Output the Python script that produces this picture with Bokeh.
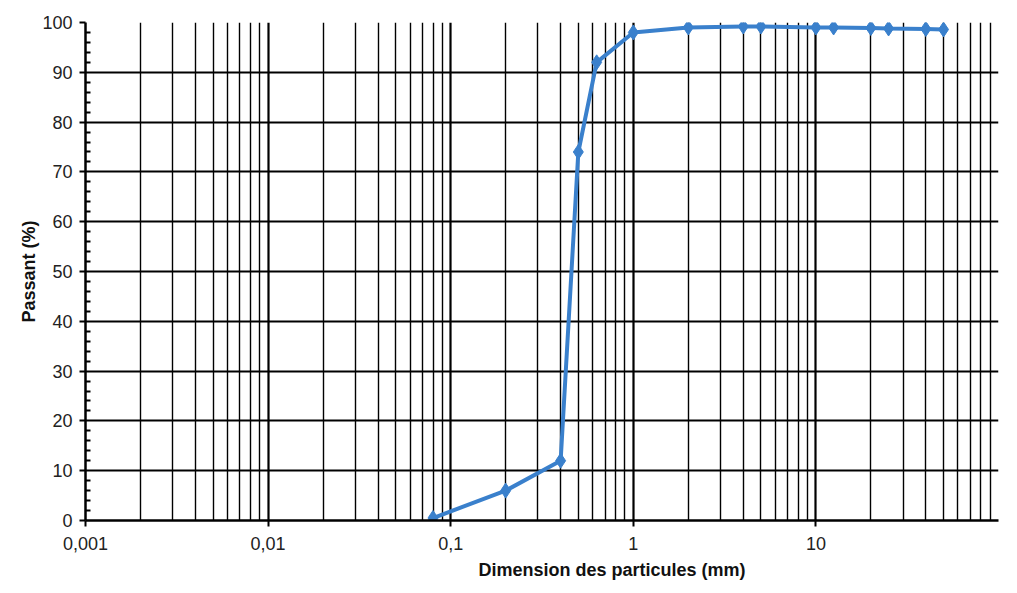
from bokeh.plotting import figure
from bokeh.models import FixedTicker, CustomJSTickFormatter, Range1d, Title
from bokeh.embed import file_html
from bokeh.resources import INLINE

# Sieve sizes (mm) and passing percentages
sizes = [0.08, 0.2, 0.4, 0.5, 0.63, 1, 2, 4, 5, 10, 12.5, 20, 25, 40, 50]
passing = [0.5, 6, 12, 74, 92, 98, 99, 99.2, 99.2, 99, 99, 98.9, 98.8, 98.7, 98.6]

x_major = [0.001, 0.01, 0.1, 1, 10]
x_minor = [m * d for d in [0.001, 0.01, 0.1, 1, 10] for m in range(2, 10)] + [100]
y_major = list(range(0, 101, 10))
y_minor = [v for v in range(0, 101, 2) if v % 10 != 0]

p = figure(width=1000, height=585, x_axis_type="log",
           x_range=Range1d(0.001, 100), y_range=Range1d(0, 100),
           output_backend="svg", toolbar_location=None,
           min_border_left=85, min_border_right=2, min_border_top=22, min_border_bottom=63)
p.outline_line_color = None
p.background_fill_color = "white"

font = "Liberation Sans"
p.xaxis.ticker = FixedTicker(ticks=x_major, minor_ticks=x_minor)
p.yaxis.ticker = FixedTicker(ticks=y_major, minor_ticks=y_minor)
p.xaxis.formatter = CustomJSTickFormatter(code="return tick.toString().replace('.', ',');")

for ax in (p.xaxis, p.yaxis):
    ax.axis_line_color = "black"
    ax.axis_line_width = 2.5
    ax.major_tick_line_color = "black"
    ax.major_tick_line_width = 2
    ax.major_tick_out = 6
    ax.major_tick_in = 0
    ax.major_label_text_font = font
    ax.major_label_text_font_size = "18px"
    ax.major_label_text_color = "#222222"
    ax.axis_label_text_font = font
    ax.axis_label_text_font_size = "18px"
    ax.axis_label_text_font_style = "bold"
    ax.axis_label_text_color = "#111111"

p.xaxis.minor_tick_line_color = None
p.xaxis.major_label_standoff = 10
p.yaxis.minor_tick_line_color = "black"
p.yaxis.minor_tick_line_width = 2
p.yaxis.minor_tick_in = 5
p.yaxis.minor_tick_out = 0
p.yaxis.major_label_standoff = 7
p.yaxis.axis_label = "Passant (%)"
p.yaxis.axis_label_standoff = 0

p.xgrid.grid_line_color = "black"
p.xgrid.grid_line_width = 2.2
p.xgrid.minor_grid_line_color = "black"
p.xgrid.minor_grid_line_width = 1.4
p.ygrid.grid_line_color = "black"
p.ygrid.grid_line_width = 2
p.ygrid.minor_grid_line_color = None

blue = "#3a80cc"
p.line(sizes, passing, line_color=blue, line_width=4)
p.scatter(sizes, passing, marker="diamond", size=15, fill_color=blue, line_color=blue)

p.add_layout(Title(text="Dimension des particules (mm)", align="left", offset=393,
                   standoff=11, text_font=font, text_font_size="18px",
                   text_font_style="bold", text_color="#111111"), "below")

open("out.html", "w").write(file_html(p, INLINE))
